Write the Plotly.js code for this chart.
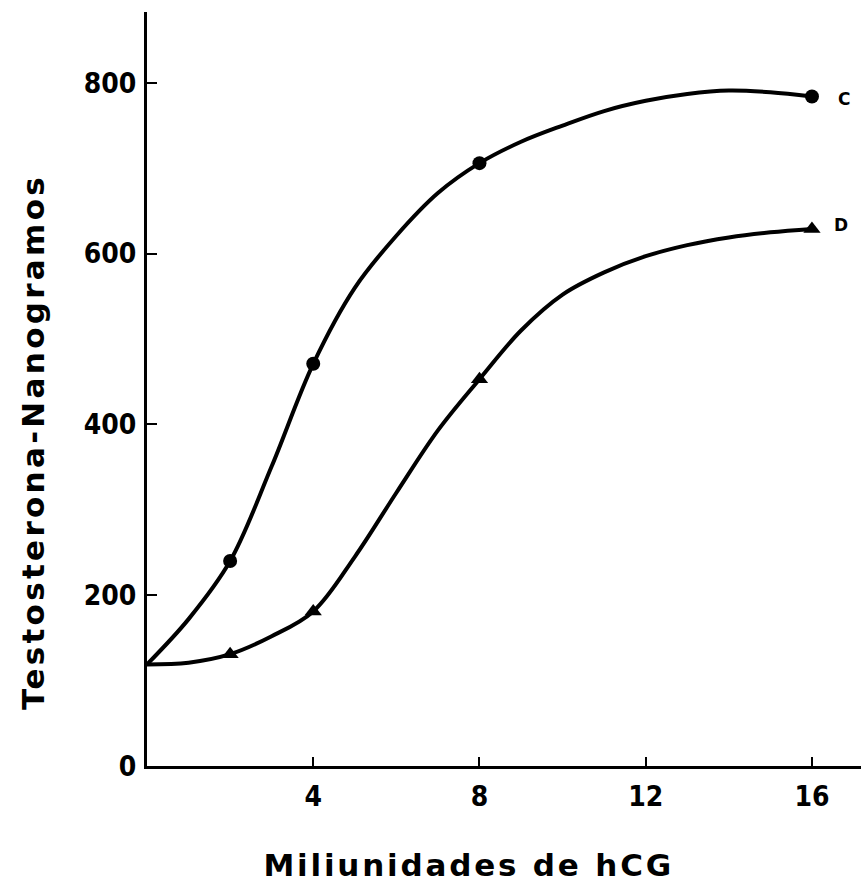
<!DOCTYPE html>
<html>
<head>
<meta charset="utf-8">
<script src="https://cdn.plot.ly/plotly-3.0.1.min.js"></script>
<style>
  html, body { margin: 0; padding: 0; background: #fff; }
  #chart { width: 861px; height: 884px; }
  .annotation[data-index="2"] text { letter-spacing: 2.8px; }
  .annotation[data-index="3"] text { letter-spacing: 3.3px; }
</style>
</head>
<body>
<div id="chart"></div>
<script>
// Measured doses (milliunits hCG) and testosterone (ng)
const doses = [2, 4, 8, 16];
const seriesC = [240, 471, 706, 784];
const seriesD = [131, 181, 453, 629];

// Values, every 1 milliunit (dose 0 = common baseline)
const curveX  = [0, 1, 2, 3, 4, 5, 6, 7, 8, 9, 10, 11, 12, 13, 14, 15, 16];
const curveCy = [119, 172, 240, 351, 471, 560, 621, 671, 706, 731, 750, 767, 779, 787, 791, 789, 784];
const curveDy = [119, 121, 131, 152, 181, 245, 320, 393, 453, 510, 552, 578, 597, 610, 619, 625, 629];

const xTicks = [4, 8, 12, 16];
const yTicks = [0, 200, 400, 600, 800];
const seriesLabels = ['C', 'D'];
const xTitle = 'Miliunidades de hCG';
const yTitle = 'Testosterona-Nanogramos';

const tickFont = {family: '"DejaVu Sans Condensed", "DejaVu Sans", sans-serif', size: 28, color: '#000', weight: 'bold'};
const titleFont = {family: '"DejaVu Sans", sans-serif', size: 31, color: '#000', weight: 'bold'};
const labelFont = {family: '"DejaVu Sans", sans-serif', size: 17, color: '#000', weight: 'bold'};

const traces = [
  {x: curveX, y: curveCy, mode: 'lines', line: {color: '#000', width: 4, shape: 'spline', smoothing: 1}, hoverinfo: 'skip', showlegend: false},
  {x: curveX, y: curveDy, mode: 'lines', line: {color: '#000', width: 4, shape: 'spline', smoothing: 1}, hoverinfo: 'skip', showlegend: false},
  {x: doses, y: seriesC, mode: 'markers', marker: {symbol: 'circle', size: 14, color: '#000'}, cliponaxis: false, showlegend: false, name: 'C'},
  {x: doses, y: seriesD, mode: 'markers', marker: {symbol: 'triangle-up', size: 15, color: '#000'}, cliponaxis: false, showlegend: false, name: 'D'}
];

// plot area: x 147..861 px, y 12..766 px
const px = v => (v - 147) / 714;
const py = v => (766 - v) / 754;

const layout = {
  width: 861, height: 884,
  margin: {l: 147, r: 0, t: 12, b: 118},
  paper_bgcolor: '#fff', plot_bgcolor: '#fff',
  showlegend: false,
  xaxis: {
    range: [0, 17.18], tickvals: xTicks, ticktext: xTicks.map(String),
    ticks: 'inside', ticklen: 9, tickwidth: 2, tickcolor: '#000',
    showline: true, linewidth: 3, linecolor: '#000',
    showgrid: false, zeroline: false, tickfont: tickFont, ticklabelstandoff: 3
  },
  yaxis: {
    range: [0, 883], tickvals: yTicks, ticktext: yTicks.map(String),
    ticks: 'inside', ticklen: 10, tickwidth: 2, tickcolor: '#000',
    showline: true, linewidth: 3, linecolor: '#000',
    showgrid: false, zeroline: false, tickfont: tickFont, ticklabelstandoff: 2
  },
  annotations: [
    {x: 16.77, y: 781, xref: 'x', yref: 'y', text: seriesLabels[0], showarrow: false, font: labelFont},
    {x: 16.70, y: 634, xref: 'x', yref: 'y', text: seriesLabels[1], showarrow: false, font: labelFont},
    {x: px(468), y: py(865), xref: 'paper', yref: 'paper', xanchor: 'center', yanchor: 'middle', text: xTitle, showarrow: false, font: titleFont},
    {x: px(33), y: py(442), xref: 'paper', yref: 'paper', xanchor: 'center', yanchor: 'middle', textangle: -90, text: yTitle, showarrow: false, font: titleFont}
  ]
};

Plotly.newPlot('chart', traces, layout, {displayModeBar: false, staticPlot: true});
</script>
</body>
</html>
